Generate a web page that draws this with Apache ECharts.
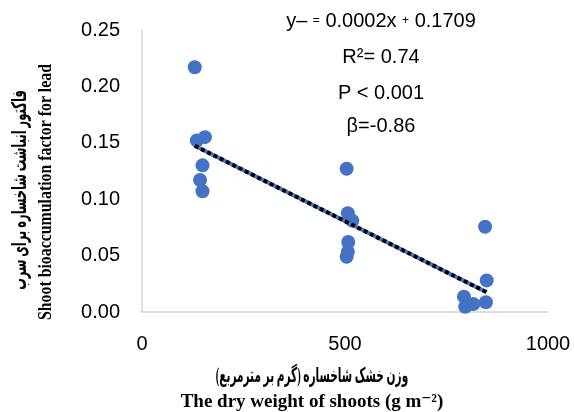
<!DOCTYPE html>
<html>
<head>
<meta charset="utf-8">
<script src="https://cdn.jsdelivr.net/npm/echarts@6/dist/echarts.min.js"></script>
<style>
    html, body {margin:0;padding:0;background:#fff;}
    #chart {width:574px;height:412px;}
</style>
</head>
<body>
<div id="chart"></div>
<script>
// dry weight of shoots (g m-2)
var dryWeight = [130, 155, 135, 149, 143, 149, 504, 507, 518, 508, 507, 504, 845, 849, 847, 793, 796, 816];
// shoot bioaccumulation factor for lead
var bafLead = [0.217, 0.155, 0.152, 0.130, 0.117, 0.107, 0.127, 0.0875, 0.081, 0.062, 0.0535, 0.049, 0.0756, 0.028, 0.0086, 0.0136, 0.0047, 0.007];
var xTicks = [0, 500, 1000];
var yTicks = [0, 0.05, 0.10, 0.15, 0.20, 0.25];
var statLines = ['R\u00b2= 0.74', 'P < 0.001', '\u03b2=-0.86'];

var points = dryWeight.map(function(v, i){ return [v, bafLead[i]]; });

// least squares fit, drawn between smallest and largest x
var n = points.length, sx = 0, sy = 0, sxx = 0, sxy = 0;
points.forEach(function(p){ sx += p[0]; sy += p[1]; sxx += p[0]*p[0]; sxy += p[0]*p[1]; });
var slope = (n*sxy - sx*sy) / (n*sxx - sx*sx);
var icpt = (sy - slope*sx) / n;
var xmin = Math.min.apply(null, dryWeight), xmax = Math.max.apply(null, dryWeight);
var fit = [[xmin, icpt + slope*xmin], [xmax, icpt + slope*xmax]];

var labelFont = 'Liberation Sans, Arial, sans-serif';
var titleFont = 'Liberation Serif, Times New Roman, DejaVu Sans, serif';

function statText(txt, y) {
    return {type: 'text', x: 381, y: y, style: {text: txt, font: '20px ' + labelFont, fill: '#000', textAlign: 'center', textVerticalAlign: 'middle'}};
}

var option = {
    animation: false,
    grid: {left: 142, right: 26, top: 30, bottom: 100},
    xAxis: {
        type: 'value',
        min: xTicks[0], max: xTicks[xTicks.length-1], interval: 500,
        axisLine: {show: true, lineStyle: {color: '#d4d4d4', width: 1.5}},
        axisTick: {show: false},
        splitLine: {show: false},
        axisLabel: {color: '#000', fontSize: 20, fontFamily: labelFont, margin: 22,
            formatter: function(v){ return String(v); }}
    },
    yAxis: {
        type: 'value',
        min: yTicks[0], max: yTicks[yTicks.length-1], interval: 0.05,
        axisLine: {show: true, lineStyle: {color: '#d4d4d4', width: 1.5}},
        axisTick: {show: false},
        splitLine: {show: false},
        axisLabel: {color: '#000', fontSize: 20, fontFamily: labelFont, margin: 22,
            formatter: function(v){ return v.toFixed(2); }}
    },
    series: [
        {
            type: 'scatter', data: points, symbolSize: 14,
            itemStyle: {color: '#4472c4', opacity: 1}
        },
        {
            type: 'line', data: fit, symbol: 'none',
            lineStyle: {color: '#4472c4', width: 4}
        },
        {
            type: 'line', data: fit, symbol: 'none',
            lineStyle: {color: '#000', width: 4, type: [4, 3]}
        }
    ],
    graphic: [
        {type: 'text', x: 381, y: 21, style: {
            text: '{n|y\u2013 }{s|=}{n| 0.0002x }{s|+}{n| 0.1709}',
            textAlign: 'center', textVerticalAlign: 'middle',
            rich: {
                n: {font: '20px ' + labelFont, fill: '#000'},
                s: {font: '12px ' + labelFont, fill: '#000'}
            }
        }},
        statText(statLines[0], 57),
        statText(statLines[1], 93),
        statText(statLines[2], 126),
        {type: 'text', x: 21, y: 190, rotation: Math.PI/2, scaleX: 0.68, scaleY: 1.2,
            style: {text: 'فاکتور انباشت شاخساره برای سرب', font: 'bold 17px ' + titleFont, fill: '#000', textAlign: 'center', textVerticalAlign: 'middle'}},
        {type: 'text', x: 46, y: 192, rotation: Math.PI/2, scaleX: 0.88,
            style: {text: 'Shoot bioaccumulation factor for lead', font: 'bold 18px ' + titleFont, fill: '#000', textAlign: 'center', textVerticalAlign: 'middle'}},
        {type: 'text', x: 312, y: 377, scaleX: 0.62, scaleY: 1.2,
            style: {text: 'وزن خشک شاخساره (گرم بر مترمربع)', font: 'bold 17px ' + titleFont, fill: '#000', textAlign: 'center', textVerticalAlign: 'middle'}},
        {type: 'text', x: 312, y: 402,
            style: {text: 'The dry weight of shoots (g m\u207b\u00b2)', font: 'bold 19px ' + titleFont, fill: '#000', textAlign: 'center', textVerticalAlign: 'middle'}}
    ]
};

echarts.init(document.getElementById('chart')).setOption(option);
</script>
</body>
</html>
